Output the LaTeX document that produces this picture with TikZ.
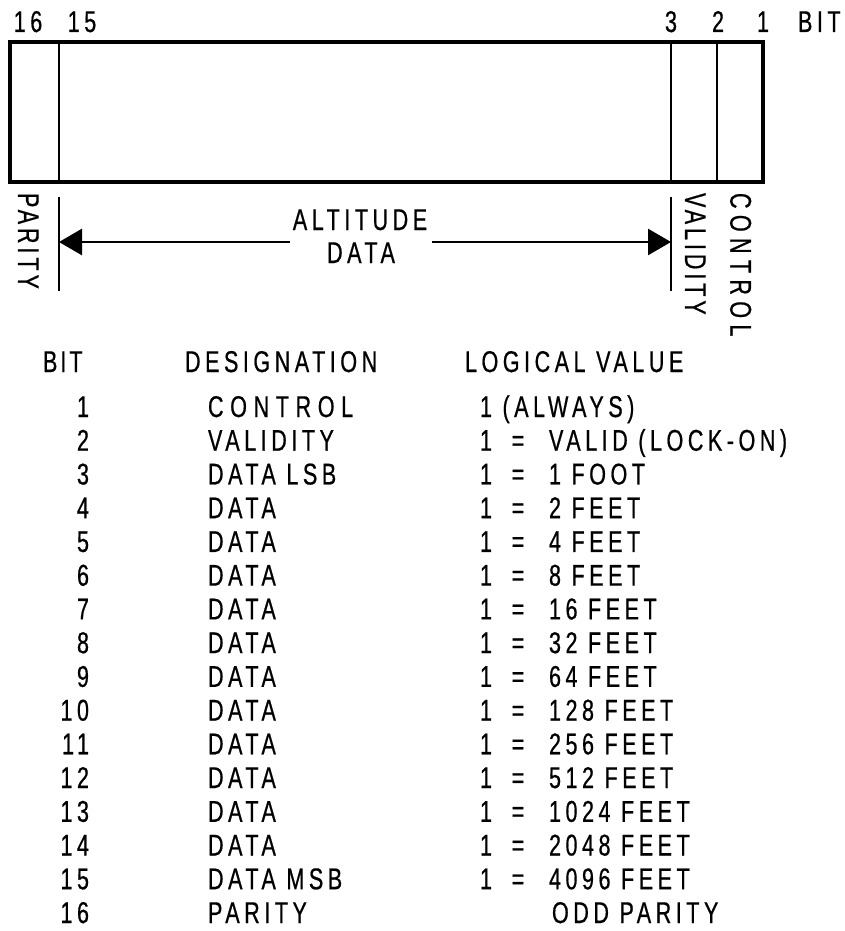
\documentclass[tikz,border=0pt]{standalone}
\usepackage{fontspec}
\setmainfont{Liberation Sans}[FakeStretch=0.72,LetterSpace=15,FakeBold=0.6]
\usetikzlibrary{arrows.meta}
\begin{document}
\begin{tikzpicture}[x=1pt,y=-1pt,
  every node/.style={inner sep=0pt,outer sep=0pt,font=\fontsize{30}{32}\selectfont},
  lbl/.style={anchor=base},
  lw/.style={anchor=base west},
  le/.style={anchor=base east},
  rot/.style={rotate=-90,anchor=south west},
  boxline/.style={line width=3.5pt},
  divline/.style={line width=2pt},
  tickline/.style={line width=2.5pt},
  dimarrow/.style={line width=2.8pt,-{Triangle[length=23pt,width=26pt]}}]
\useasboundingbox (0,0) rectangle (844,931);
% top bit numbers
\node[lbl] (t16) at (28,32) {16};
\node[lbl] (t15) at (82,32) {15};
\node[lbl] (t3) at (671,32) {3};
\node[lbl] (t2) at (718,32) {2};
\node[lbl] (t1) at (763,32) {1};
\node[lw] (tbit) at (798,32) {BIT};
% word box
\draw[divline] (59,42) -- (59,182);
\draw[divline] (671,42) -- (671,182);
\draw[divline] (717,42) -- (717,182);
\draw[boxline] (10,42) rectangle (763,182);
% lower ticks
\coordinate (lt1) at (59,197); \coordinate (lt2) at (59,291);
\coordinate (rt1) at (671,197); \coordinate (rt2) at (671,291);
\draw[tickline] (lt1) -- (lt2);
\draw[tickline] (rt1) -- (rt2);
% altitude data
\node[lbl] (alt) at (360,230) {ALTITUDE};
\node[lbl] (dat) at (361,263) {DATA};
\coordinate (al) at (290,242); \coordinate (ar) at (432,242);
\coordinate (pl) at (59,242); \coordinate (pr) at (671,242);
\draw[dimarrow] (al) -- (pl);
\draw[dimarrow] (ar) -- (pr);
% rotated labels
\node[rot] (par) at (18,193) {\addfontfeature{LetterSpace=13}PARITY};
\node[rot] (val) at (685,193) {\addfontfeature{LetterSpace=13}VALIDITY};
\node[rot] (con) at (730,193) {\addfontfeature{LetterSpace=21}CONTROL};
% table header
\node[lw] (hbit) at (43,372) {\addfontfeature{LetterSpace=10}BIT};
\node[lw] (hdes) at (185,372) {DESIGNATION};
\node[lw] (hval) at (465,372) {LOGICAL VALUE};
% rows
\foreach \i/\d/\v in {
  3/DATA LSB/1 FOOT, 4/DATA/2 FEET, 5/DATA/4 FEET, 6/DATA/8 FEET,
  7/DATA/16 FEET, 8/DATA/32 FEET, 9/DATA/64 FEET, 10/DATA/128 FEET,
  11/DATA/256 FEET, 12/DATA/512 FEET, 13/DATA/1024 FEET, 14/DATA/2048 FEET,
  15/DATA MSB/4096 FEET}{
  \pgfmathsetmacro\yy{417+(\i-1)*33.73}
  \node[le] (n\i) at (89,\yy) {\i};
  \node[lw] (d\i) at (208,\yy) {\d};
  \node[lw] (o\i) at (480,\yy) {1};
  \node[lbl] (e\i) at (518,\yy) {=};
  \node[lw] (v\i) at (549,\yy) {\v};
}
\node[le] (n1) at (89,417) {1};
\node[lw] (d1) at (208,417) {\addfontfeature{LetterSpace=22}CONTROL};
\node[lw] (v1) at (480,417) {1 (ALWAYS)};
\node[le] (n2) at (89,450.73) {2};
\node[lw] (d2) at (208,450.73) {VALIDITY};
\node[lw] (o2) at (480,450.73) {1};
\node[lbl] (e2) at (518,450.73) {=};
\node[lw] (v2) at (549,450.73) {VALID (LOCK-ON)};
\node[le] (n16) at (89,923) {16};
\node[lw] (d16) at (208,923) {PARITY};
\node[lw] (v16) at (552,923) {ODD PARITY};
\end{tikzpicture}
\end{document}
